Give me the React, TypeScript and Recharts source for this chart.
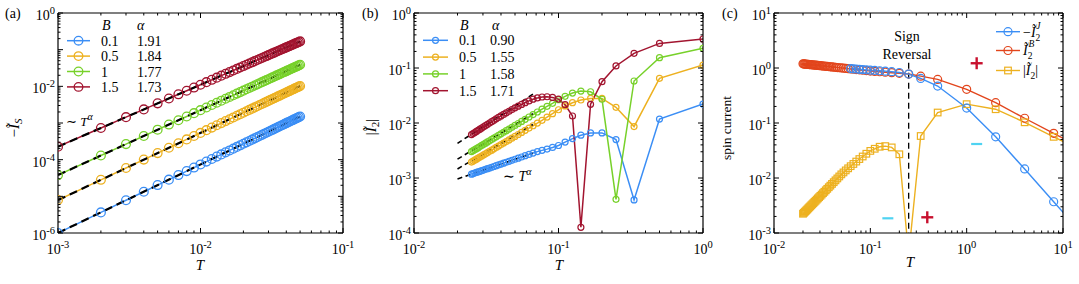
import React from "react";
import { LineChart, Line, XAxis, YAxis, ReferenceLine, ReferenceDot } from "recharts";

const FONT = "'Liberation Serif', 'Times New Roman', serif";

const blue = "#3b8ef5";
const yellow = "#edb120";
const green = "#77d12a";
const darkRed = "#a2142f";
const orange = "#e2451c";
const cyan = "#4fd3f2";
const plusRed = "#c8102e";

// ---- panel (a): -I_S vs T ----
const aT = [
  0.001, 0.002, 0.003, 0.004, 0.005, 0.006, 0.007, 0.008, 0.009, 0.01,
  0.011, 0.012, 0.013, 0.014, 0.015, 0.016, 0.017, 0.018, 0.019, 0.02,
  0.021, 0.022, 0.023, 0.024, 0.025, 0.026, 0.027, 0.028, 0.029, 0.03,
  0.031, 0.032, 0.033, 0.034, 0.035, 0.036, 0.037, 0.038, 0.039, 0.04,
  0.041, 0.042, 0.043, 0.044, 0.045, 0.046, 0.047, 0.048, 0.049, 0.05,
];
const aBlue = [
  1.0e-6, 3.65e-6, 7.8e-6, 1.336e-5, 2.03e-5, 2.85e-5, 3.8e-5, 4.88e-5, 6.09e-5, 7.41e-5,
  8.86e-5, 1.043e-4, 1.211e-4, 1.391e-4, 1.582e-4, 1.785e-4, 2.0e-4, 2.226e-4, 2.463e-4, 2.71e-4,
  2.97e-4, 3.24e-4, 3.52e-4, 3.81e-4, 4.11e-4, 4.43e-4, 4.75e-4, 5.09e-4, 5.43e-4, 5.78e-4,
  6.15e-4, 6.52e-4, 6.91e-4, 7.31e-4, 7.72e-4, 8.13e-4, 8.56e-4, 9.0e-4, 9.45e-4, 9.91e-4,
  1.037e-3, 1.085e-3, 1.134e-3, 1.184e-3, 1.234e-3, 1.286e-3, 1.339e-3, 1.392e-3, 1.448e-3, 1.503e-3,
];
const aYellow = [
  7.94e-6, 2.823e-5, 5.93e-5, 1.004e-4, 1.511e-4, 2.109e-4, 2.796e-4, 3.57e-4, 4.43e-4, 5.37e-4,
  6.39e-4, 7.5e-4, 8.68e-4, 9.94e-4, 1.128e-3, 1.269e-3, 1.418e-3, 1.575e-3, 1.739e-3, 1.91e-3,
  2.087e-3, 2.274e-3, 2.466e-3, 2.666e-3, 2.872e-3, 3.087e-3, 3.307e-3, 3.535e-3, 3.77e-3, 4.01e-3,
  4.26e-3, 4.51e-3, 4.78e-3, 5.04e-3, 5.32e-3, 5.6e-3, 5.89e-3, 6.18e-3, 6.48e-3, 6.79e-3,
  7.1e-3, 7.42e-3, 7.75e-3, 8.08e-3, 8.42e-3, 8.77e-3, 9.12e-3, 9.48e-3, 9.84e-3, 1.021e-2,
];
const aGreen = [
  3.8e-5, 1.296e-4, 2.66e-4, 4.42e-4, 6.57e-4, 9.07e-4, 1.19e-3, 1.508e-3, 1.857e-3, 2.239e-3,
  2.651e-3, 3.092e-3, 3.561e-3, 4.06e-3, 4.59e-3, 5.14e-3, 5.73e-3, 6.34e-3, 6.97e-3, 7.63e-3,
  8.32e-3, 9.04e-3, 9.78e-3, 1.054e-2, 1.133e-2, 1.215e-2, 1.299e-2, 1.385e-2, 1.474e-2, 1.565e-2,
  1.659e-2, 1.754e-2, 1.852e-2, 1.953e-2, 2.057e-2, 2.162e-2, 2.269e-2, 2.378e-2, 2.49e-2, 2.604e-2,
  2.72e-2, 2.838e-2, 2.96e-2, 3.083e-2, 3.21e-2, 3.336e-2, 3.46e-2, 3.595e-2, 3.73e-2, 3.87e-2,
];
const aRed = [
  2.26e-4, 7.29e-4, 1.446e-3, 2.352e-3, 3.43e-3, 4.67e-3, 6.06e-3, 7.59e-3, 9.26e-3, 1.107e-2,
  1.3e-2, 1.506e-2, 1.724e-2, 1.954e-2, 2.196e-2, 2.448e-2, 2.713e-2, 2.988e-2, 3.275e-2, 3.57e-2,
  3.88e-2, 4.195e-2, 4.52e-2, 4.86e-2, 5.21e-2, 5.57e-2, 5.93e-2, 6.3e-2, 6.69e-2, 7.09e-2,
  7.49e-2, 7.9e-2, 8.32e-2, 8.75e-2, 9.19e-2, 9.64e-2, 0.101, 0.1056, 0.1104, 0.1152,
  0.1201, 0.1251, 0.1302, 0.1353, 0.1406, 0.1459, 0.1513, 0.1567, 0.1623, 0.168,
];
const aFitT = [0.001, 0.05];
const aFitBlue = [1.0e-6, 1.5e-3];
const aFitYellow = [7.9e-6, 1.02e-2];
const aFitGreen = [3.8e-5, 3.87e-2];
const aFitRed = [2.26e-4, 0.168];
const aB = ["0.1", "0.5", "1", "1.5"];
const aAlpha = ["1.91", "1.84", "1.77", "1.73"];

// ---- panel (b): |I_2| vs T (T = 1/n, n = 40..1) ----
const bT = [
  0.025, 0.02564, 0.02632, 0.02703, 0.02778, 0.02857, 0.02941, 0.0303, 0.03125, 0.03226,
  0.03333, 0.03448, 0.03571, 0.03704, 0.03846, 0.04, 0.04167, 0.04348, 0.04545, 0.04762,
  0.05, 0.05263, 0.05556, 0.05882, 0.0625, 0.06667, 0.07143, 0.07692, 0.08333, 0.09091,
  0.1, 0.1111, 0.125, 0.1429, 0.1667, 0.2, 0.25, 0.3333, 0.5, 1,
];
const bBlue = [
  1.175e-3, 1.202e-3, 1.23e-3, 1.262e-3, 1.291e-3, 1.324e-3, 1.361e-3, 1.396e-3, 1.436e-3, 1.479e-3,
  1.521e-3, 1.57e-3, 1.618e-3, 1.675e-3, 1.73e-3, 1.795e-3, 1.862e-3, 1.932e-3, 2.014e-3, 2.099e-3,
  2.193e-3, 2.296e-3, 2.41e-3, 2.541e-3, 2.679e-3, 2.838e-3, 3.02e-3, 3.18e-3, 3.35e-3, 3.59e-3,
  3.9e-3, 4.5e-3, 5.2e-3, 6.0e-3, 6.6e-3, 6.6e-3, 5.0e-3, 4.0e-4, 1.18e-2, 2.21e-2,
];
const bYellow = [
  1.95e-3, 2.03e-3, 2.11e-3, 2.2e-3, 2.3e-3, 2.4e-3, 2.51e-3, 2.63e-3, 2.75e-3, 2.9e-3,
  3.05e-3, 3.21e-3, 3.39e-3, 3.59e-3, 3.8e-3, 4.05e-3, 4.31e-3, 4.6e-3, 4.93e-3, 5.3e-3,
  5.71e-3, 6.18e-3, 6.73e-3, 7.35e-3, 8.07e-3, 8.91e-3, 9.95e-3, 1.12e-2, 1.28e-2, 1.48e-2,
  1.74e-2, 2.04e-2, 2.34e-2, 2.62e-2, 2.8e-2, 2.8e-2, 1.93e-2, 8.6e-3, 6.5e-2, 0.113,
];
const bGreen = [
  3.02e-3, 3.14e-3, 3.27e-3, 3.42e-3, 3.56e-3, 3.73e-3, 3.91e-3, 4.09e-3, 4.3e-3, 4.52e-3,
  4.76e-3, 5.02e-3, 5.31e-3, 5.62e-3, 5.97e-3, 6.35e-3, 6.78e-3, 7.24e-3, 7.76e-3, 8.36e-3,
  9.04e-3, 9.79e-3, 1.067e-2, 1.167e-2, 1.285e-2, 1.422e-2, 1.585e-2, 1.782e-2, 2.01e-2, 2.28e-2,
  2.65e-2, 3.05e-2, 3.5e-2, 3.8e-2, 3.7e-2, 2.7e-2, 4.1e-4, 5.8e-2, 0.154, 0.228,
];
const bRed = [
  6.17e-3, 6.43e-3, 6.71e-3, 7.03e-3, 7.36e-3, 7.73e-3, 8.11e-3, 8.53e-3, 8.97e-3, 9.46e-3,
  1.0e-2, 1.057e-2, 1.119e-2, 1.189e-2, 1.262e-2, 1.343e-2, 1.432e-2, 1.531e-2, 1.637e-2, 1.754e-2,
  1.884e-2, 2.02e-2, 2.18e-2, 2.34e-2, 2.52e-2, 2.71e-2, 2.86e-2, 2.97e-2, 3.0e-2, 2.92e-2,
  2.72e-2, 2.15e-2, 1.34e-2, 1.27e-4, 2.19e-2, 5.65e-2, 0.109, 0.185, 0.28, 0.337,
];
const bFitT = [0.02, 0.0665];
const bFitBlue = [9.6e-4, 2.83e-3];
const bFitYellow = [1.46e-3, 9.4e-3];
const bFitGreen = [2.2e-3, 1.48e-2];
const bFitRed = [4.27e-3, 3.34e-2];
const bB = ["0.1", "0.5", "1", "1.5"];
const bAlpha = ["0.90", "1.55", "1.58", "1.71"];

// ---- panel (c): spin current vs T ----
const cT = [
  0.02, 0.02041, 0.02083, 0.02128, 0.02174, 0.02222, 0.02273, 0.02326, 0.02381, 0.02439,
  0.025, 0.02564, 0.02632, 0.02703, 0.02778, 0.02857, 0.02941, 0.0303, 0.03125, 0.03226,
  0.03333, 0.03448, 0.03571, 0.03704, 0.03846, 0.04, 0.04167, 0.04348, 0.04545, 0.04762,
  0.05, 0.05263, 0.05556, 0.05882, 0.0625, 0.06667, 0.07143, 0.07692, 0.08333, 0.09091,
  0.1, 0.1111, 0.125, 0.1429, 0.1667, 0.2, 0.25, 0.3333, 0.5, 1,
  2, 4, 8, 16,
];
const cIB = [
  1.189, 1.184, 1.179, 1.175, 1.17, 1.166, 1.161, 1.156, 1.15, 1.146,
  1.14, 1.135, 1.129, 1.124, 1.118, 1.112, 1.106, 1.1, 1.094, 1.087,
  1.081, 1.074, 1.067, 1.06, 1.052, 1.045, 1.037, 1.029, 1.02, 1.011,
  1.002, 0.993, 0.983, 0.972, 0.961, 0.95, 0.938, 0.925, 0.911, 0.897,
  0.881, 0.868, 0.854, 0.839, 0.821, 0.801, 0.776, 0.71, 0.62, 0.41,
  0.234, 0.122, 0.065, 0.034,
];
const cI2 = [
  2.24e-3, 2.32e-3, 2.41e-3, 2.5e-3, 2.6e-3, 2.7e-3, 2.82e-3, 2.94e-3, 3.06e-3, 3.2e-3,
  3.34e-3, 3.5e-3, 3.67e-3, 3.85e-3, 4.05e-3, 4.26e-3, 4.48e-3, 4.73e-3, 5.0e-3, 5.3e-3,
  5.61e-3, 5.97e-3, 6.35e-3, 6.79e-3, 7.26e-3, 7.8e-3, 8.39e-3, 9.06e-3, 9.82e-3, 1.067e-2,
  1.164e-2, 1.262e-2, 1.374e-2, 1.5e-2, 1.64e-2, 1.8e-2, 1.99e-2, 2.21e-2, 2.46e-2, 2.76e-2,
  3.11e-2, 3.4e-2, 3.7e-2, 3.8e-2, 3.6e-2, 2.7e-2, 4.0e-4, 5.8e-2, 0.155, 0.22,
  0.178, 0.103, 0.056, 0.031,
];
const cJT = [
  0.0625, 0.06667, 0.07143, 0.07692, 0.08333, 0.09091, 0.1, 0.1111, 0.125, 0.1429,
  0.1667, 0.2, 0.25, 0.3333, 0.5, 1, 2, 4, 8, 16,
];
const cIJ = [
  0.977, 0.968, 0.958, 0.947, 0.936, 0.925, 0.912, 0.902, 0.891, 0.877,
  0.857, 0.828, 0.776, 0.645, 0.47, 0.187, 0.056, 0.0146, 0.0037, 9.5e-4,
];
const cReversalT = 0.25;

const mk = (T: number[], v: number[]) => T.map((t, i) => ({ T: t, v: v[i] }));

const logTicks = (lo: number, hi: number) => {
  const out: number[] = [];
  for (let e = lo; e < hi; e++) for (let m = 1; m < 10; m++) out.push(m * Math.pow(10, e));
  out.push(Math.pow(10, hi));
  return out;
};
const isDecade = (v: number) => Math.abs(Math.log10(v) - Math.round(Math.log10(v))) < 1e-6;

const makeTick = (side: string, labels: number[]) => (p: any) => {
  const { x, y, payload } = p;
  const v = payload.value;
  const len = isDecade(v) ? 5 : 2.5;
  const show = labels.some((l) => Math.abs(l - v) / l < 1e-6);
  const ex = Math.round(Math.log10(v));
  const lab = (
    <>
      10
      <tspan dy={-6} fontSize={10.5}>
        {ex}
      </tspan>
    </>
  );
  if (side === "bottom")
    return (
      <g>
        <line x1={x} y1={y} x2={x} y2={y - len} stroke="#000" />
        {show && (
          <text x={x} y={y + 21} textAnchor="middle" fontFamily={FONT} fontSize={14} fill="#000">
            {lab}
          </text>
        )}
      </g>
    );
  if (side === "top") return <line x1={x} y1={y} x2={x} y2={y + len} stroke="#000" />;
  if (side === "left")
    return (
      <g>
        <line x1={x} y1={y} x2={x + len} y2={y} stroke="#000" />
        {show && (
          <text x={x - 3} y={y + 7} textAnchor="end" fontFamily={FONT} fontSize={14} fill="#000">
            {lab}
          </text>
        )}
      </g>
    );
  return <line x1={x} y1={y} x2={x - len} y2={y} stroke="#000" />;
};

const axisCommon = {
  type: "number" as const,
  scale: "log" as const,
  allowDataOverflow: true,
  tickSize: 0,
  tickMargin: 0,
  tickLine: false,
  interval: 0 as const,
  axisLine: { stroke: "#000", strokeWidth: 1.2 },
};

// axes are 1px thick so that Recharts still renders them; margins absorb that pixel
function frame(
  domX: [number, number],
  domY: [number, number],
  xr: [number, number],
  yr: [number, number],
  xLab: number[],
  yLab: number[]
) {
  const xt = logTicks(xr[0], xr[1]);
  const yt = logTicks(yr[0], yr[1]);
  return [
    <XAxis key="xb" {...axisCommon} dataKey="T" domain={domX} ticks={xt} height={1} tick={makeTick("bottom", xLab)} />,
    <XAxis key="xt" {...axisCommon} xAxisId="top" orientation="top" dataKey="T" domain={domX} ticks={xt} height={1} tick={makeTick("top", [])} />,
    <YAxis key="yl" {...axisCommon} domain={domY} ticks={yt} width={1} tick={makeTick("left", yLab)} />,
    <YAxis key="yr" {...axisCommon} yAxisId="right" orientation="right" domain={domY} ticks={yt} width={1} tick={makeTick("right", [])} />,
  ];
}

const series = (d: { T: number; v: number }[], color: string, r: number, sw: number, lw: number) => (
  <Line
    data={d}
    dataKey="v"
    type="linear"
    stroke={color}
    strokeWidth={lw}
    dot={{ r, stroke: color, strokeWidth: sw, fill: "none" }}
    activeDot={false}
    isAnimationActive={false}
  />
);

const fit = (d: { T: number; v: number }[], w: number, dash: string) => (
  <Line data={d} dataKey="v" type="linear" stroke="#000" strokeWidth={w} strokeDasharray={dash} dot={false} activeDot={false} isAnimationActive={false} />
);

const Plus = (p: any) => (
  <g stroke={plusRed} strokeWidth={2.4}>
    <line x1={p.cx - 6} y1={p.cy} x2={p.cx + 6} y2={p.cy} />
    <line x1={p.cx} y1={p.cy - 6} x2={p.cx} y2={p.cy + 6} />
  </g>
);
const Minus = (p: any) => <line x1={p.cx - 5.5} y1={p.cy} x2={p.cx + 5.5} y2={p.cy} stroke={cyan} strokeWidth={2.2} />;

const SquareDot = (p: any) => (
  <rect key={`sq${p.index}`} x={p.cx - 3.3} y={p.cy - 3.3} width={6.6} height={6.6} fill="none" stroke={yellow} strokeWidth={1.2} />
);

const txt = { fontFamily: FONT, fill: "#000" };

const Overlay = () => {
  const aCols = [blue, yellow, green, darkRed];
  return (
    <svg width={1079} height={284} style={{ position: "absolute", left: 0, top: 0, pointerEvents: "none" }}>
      {/* panel (a) */}
      <text x={5} y={18} fontSize={14} {...txt}>(a)</text>
      <text transform="translate(19,128) rotate(-90)" textAnchor="middle" fontSize={15} {...txt}>
        −<tspan fontStyle="italic">Ĩ</tspan>
        <tspan fontStyle="italic" fontSize={11} dy={3}>S</tspan>
      </text>
      <text x={200} y={270} textAnchor="middle" fontSize={15} fontStyle="italic" {...txt}>T</text>
      <text x={102} y={30} fontSize={14} fontStyle="italic" {...txt}>B</text>
      <text x={137} y={30} fontSize={14} fontStyle="italic" {...txt}>α</text>
      {aCols.map((c, i) => {
        const y = 40.7 + i * 15.4;
        return (
          <g key={`al${i}`}>
            <line x1={67} y1={y} x2={90} y2={y} stroke={c} strokeWidth={1.5} />
            <circle cx={78.5} cy={y} r={4.3} fill="none" stroke={c} strokeWidth={1.3} />
            <text x={101} y={y + 5} fontSize={14} {...txt}>{aB[i]}</text>
            <text x={137} y={y + 5} fontSize={14} {...txt}>{aAlpha[i]}</text>
          </g>
        );
      })}
      <text x={66} y={126} fontSize={13} {...txt}>
        ∼ <tspan fontStyle="italic">T</tspan>
        <tspan fontStyle="italic" fontSize={10} dy={-6}>α</tspan>
      </text>

      {/* panel (b) */}
      <text x={362} y={18} fontSize={14} {...txt}>(b)</text>
      <text transform="translate(376,127) rotate(-90)" textAnchor="middle" fontSize={15} {...txt}>
        |<tspan fontStyle="italic">Ĩ</tspan>
        <tspan fontSize={11} dy={3}>2</tspan>
        <tspan dy={-3}>|</tspan>
      </text>
      <text x={559} y={270} textAnchor="middle" fontSize={15} fontStyle="italic" {...txt}>T</text>
      <text x={460} y={30} fontSize={14} fontStyle="italic" {...txt}>B</text>
      <text x={492} y={30} fontSize={14} fontStyle="italic" {...txt}>α</text>
      {aCols.map((c, i) => {
        const y = 40.3 + i * 16.8;
        return (
          <g key={`bl${i}`}>
            <line x1={423} y1={y} x2={448} y2={y} stroke={c} strokeWidth={1.5} />
            <circle cx={435.5} cy={y} r={3} fill="none" stroke={c} strokeWidth={1.2} />
            <text x={459} y={y + 5} fontSize={14} {...txt}>{bB[i]}</text>
            <text x={490} y={y + 5} fontSize={14} {...txt}>{bAlpha[i]}</text>
          </g>
        );
      })}
      <text x={503} y={181} fontSize={14} {...txt}>
        ∼ <tspan fontStyle="italic">T</tspan>
        <tspan fontStyle="italic" fontSize={10} dy={-6}>α</tspan>
      </text>

      {/* panel (c) */}
      <text x={722} y={18} fontSize={14} {...txt}>(c)</text>
      <text transform="translate(731,128) rotate(-90)" textAnchor="middle" fontSize={13.5} {...txt}>spin current</text>
      <text x={910} y={267} textAnchor="middle" fontSize={15} fontStyle="italic" {...txt}>T</text>
      <text x={907} y={41} textAnchor="middle" fontSize={14} {...txt}>Sign</text>
      <text x={907} y={59} textAnchor="middle" fontSize={14} {...txt}>Reversal</text>
      <g>
        <line x1={996} y1={31.7} x2={1020} y2={31.7} stroke={blue} strokeWidth={1.4} />
        <circle cx={1008} cy={31.7} r={4} fill="none" stroke={blue} strokeWidth={1.2} />
        <text x={1023} y={36.5} fontSize={14} {...txt}>
          −<tspan fontStyle="italic">Ĩ</tspan>
          <tspan fontSize={9.5} dy={4}>2</tspan>
          <tspan fontSize={9.5} fontStyle="italic" dx={-4} dy={-12}>J</tspan>
        </text>
        <line x1={996} y1={50.5} x2={1020} y2={50.5} stroke={orange} strokeWidth={1.4} />
        <circle cx={1008} cy={50.5} r={4} fill="none" stroke={orange} strokeWidth={1.2} />
        <text x={1023} y={55.3} fontSize={14} {...txt}>
          <tspan fontStyle="italic">Ĩ</tspan>
          <tspan fontSize={9.5} dy={4}>2</tspan>
          <tspan fontSize={9.5} fontStyle="italic" dx={-4} dy={-12}>B</tspan>
        </text>
        <line x1={996} y1={70.5} x2={1020} y2={70.5} stroke={yellow} strokeWidth={1.4} />
        <rect x={1004.7} y={67.2} width={6.6} height={6.6} fill="none" stroke={yellow} strokeWidth={1.2} />
        <text x={1023} y={75.3} fontSize={14} {...txt}>
          |<tspan fontStyle="italic">Ĩ</tspan>
          <tspan fontSize={9.5} dy={4}>2</tspan>
          <tspan dy={-4}>|</tspan>
        </text>
      </g>
    </svg>
  );
};

export default function App() {
  return (
    <div style={{ position: "absolute", left: 0, top: 0, width: 1079, height: 284, background: "#fff", overflow: "hidden" }}>
      <div style={{ position: "absolute", left: 0, top: 0 }}>
        <LineChart width={360} height={284} margin={{ top: 12, right: 16, bottom: 50, left: 57 }}>
          {frame([1e-3, 1e-1], [1e-6, 1], [-3, -1], [-6, 0], [1e-3, 1e-2, 1e-1], [1e-6, 1e-4, 1e-2, 1])}
          {series(mk(aT, aBlue), blue, 4.4, 1.3, 1.5)}
          {series(mk(aT, aYellow), yellow, 4.4, 1.3, 1.5)}
          {series(mk(aT, aGreen), green, 4.4, 1.3, 1.5)}
          {series(mk(aT, aRed), darkRed, 4.4, 1.3, 1.5)}
          {fit(mk(aFitT, aFitBlue), 2.2, "8 5")}
          {fit(mk(aFitT, aFitYellow), 2.2, "8 5")}
          {fit(mk(aFitT, aFitGreen), 2.2, "8 5")}
          {fit(mk(aFitT, aFitRed), 2.2, "8 5")}
        </LineChart>
      </div>
      <div style={{ position: "absolute", left: 360, top: 0 }}>
        <LineChart width={360} height={284} margin={{ top: 12, right: 16, bottom: 50, left: 53 }}>
          {frame([1e-2, 1], [1e-4, 1], [-2, 0], [-4, 0], [1e-2, 1e-1, 1], [1e-4, 1e-3, 1e-2, 1e-1, 1])}
          {series(mk(bT, bBlue), blue, 3, 1.2, 1.5)}
          {series(mk(bT, bYellow), yellow, 3, 1.2, 1.5)}
          {series(mk(bT, bGreen), green, 3, 1.2, 1.5)}
          {series(mk(bT, bRed), darkRed, 3, 1.2, 1.5)}
          {fit(mk(bFitT, bFitBlue), 1.6, "5 3.5")}
          {fit(mk(bFitT, bFitYellow), 1.6, "5 3.5")}
          {fit(mk(bFitT, bFitGreen), 1.6, "5 3.5")}
          {fit(mk(bFitT, bFitRed), 1.6, "5 3.5")}
        </LineChart>
      </div>
      <div style={{ position: "absolute", left: 720, top: 0 }}>
        <LineChart width={359} height={284} margin={{ top: 12, right: 15, bottom: 50, left: 53 }}>
          {frame([1e-2, 10], [1e-3, 10], [-2, 1], [-3, 1], [1e-2, 1e-1, 1, 10], [1e-3, 1e-2, 1e-1, 1, 10])}
          <ReferenceLine
            segment={[{ x: cReversalT, y: 1.25 }, { x: cReversalT, y: 1e-3 }]}
            stroke="#000"
            strokeWidth={1.3}
            strokeDasharray="6 4"
            ifOverflow="visible"
          />
          {series(mk(cT, cIB), orange, 4, 1.2, 1.4)}
          <Line
            data={mk(cT, cI2)}
            dataKey="v"
            type="linear"
            stroke={yellow}
            strokeWidth={1.4}
            dot={SquareDot}
            activeDot={false}
            isAnimationActive={false}
          />
          {series(mk(cJT, cIJ), blue, 4, 1.2, 1.4)}
          <ReferenceDot x={1.27} y={1.22} r={0} ifOverflow="visible" shape={Plus} />
          <ReferenceDot x={0.39} y={1.93e-3} r={0} ifOverflow="visible" shape={Plus} />
          <ReferenceDot x={1.27} y={0.0415} r={0} ifOverflow="visible" shape={Minus} />
          <ReferenceDot x={0.152} y={1.85e-3} r={0} ifOverflow="visible" shape={Minus} />
        </LineChart>
      </div>
      <Overlay />
    </div>
  );
}
